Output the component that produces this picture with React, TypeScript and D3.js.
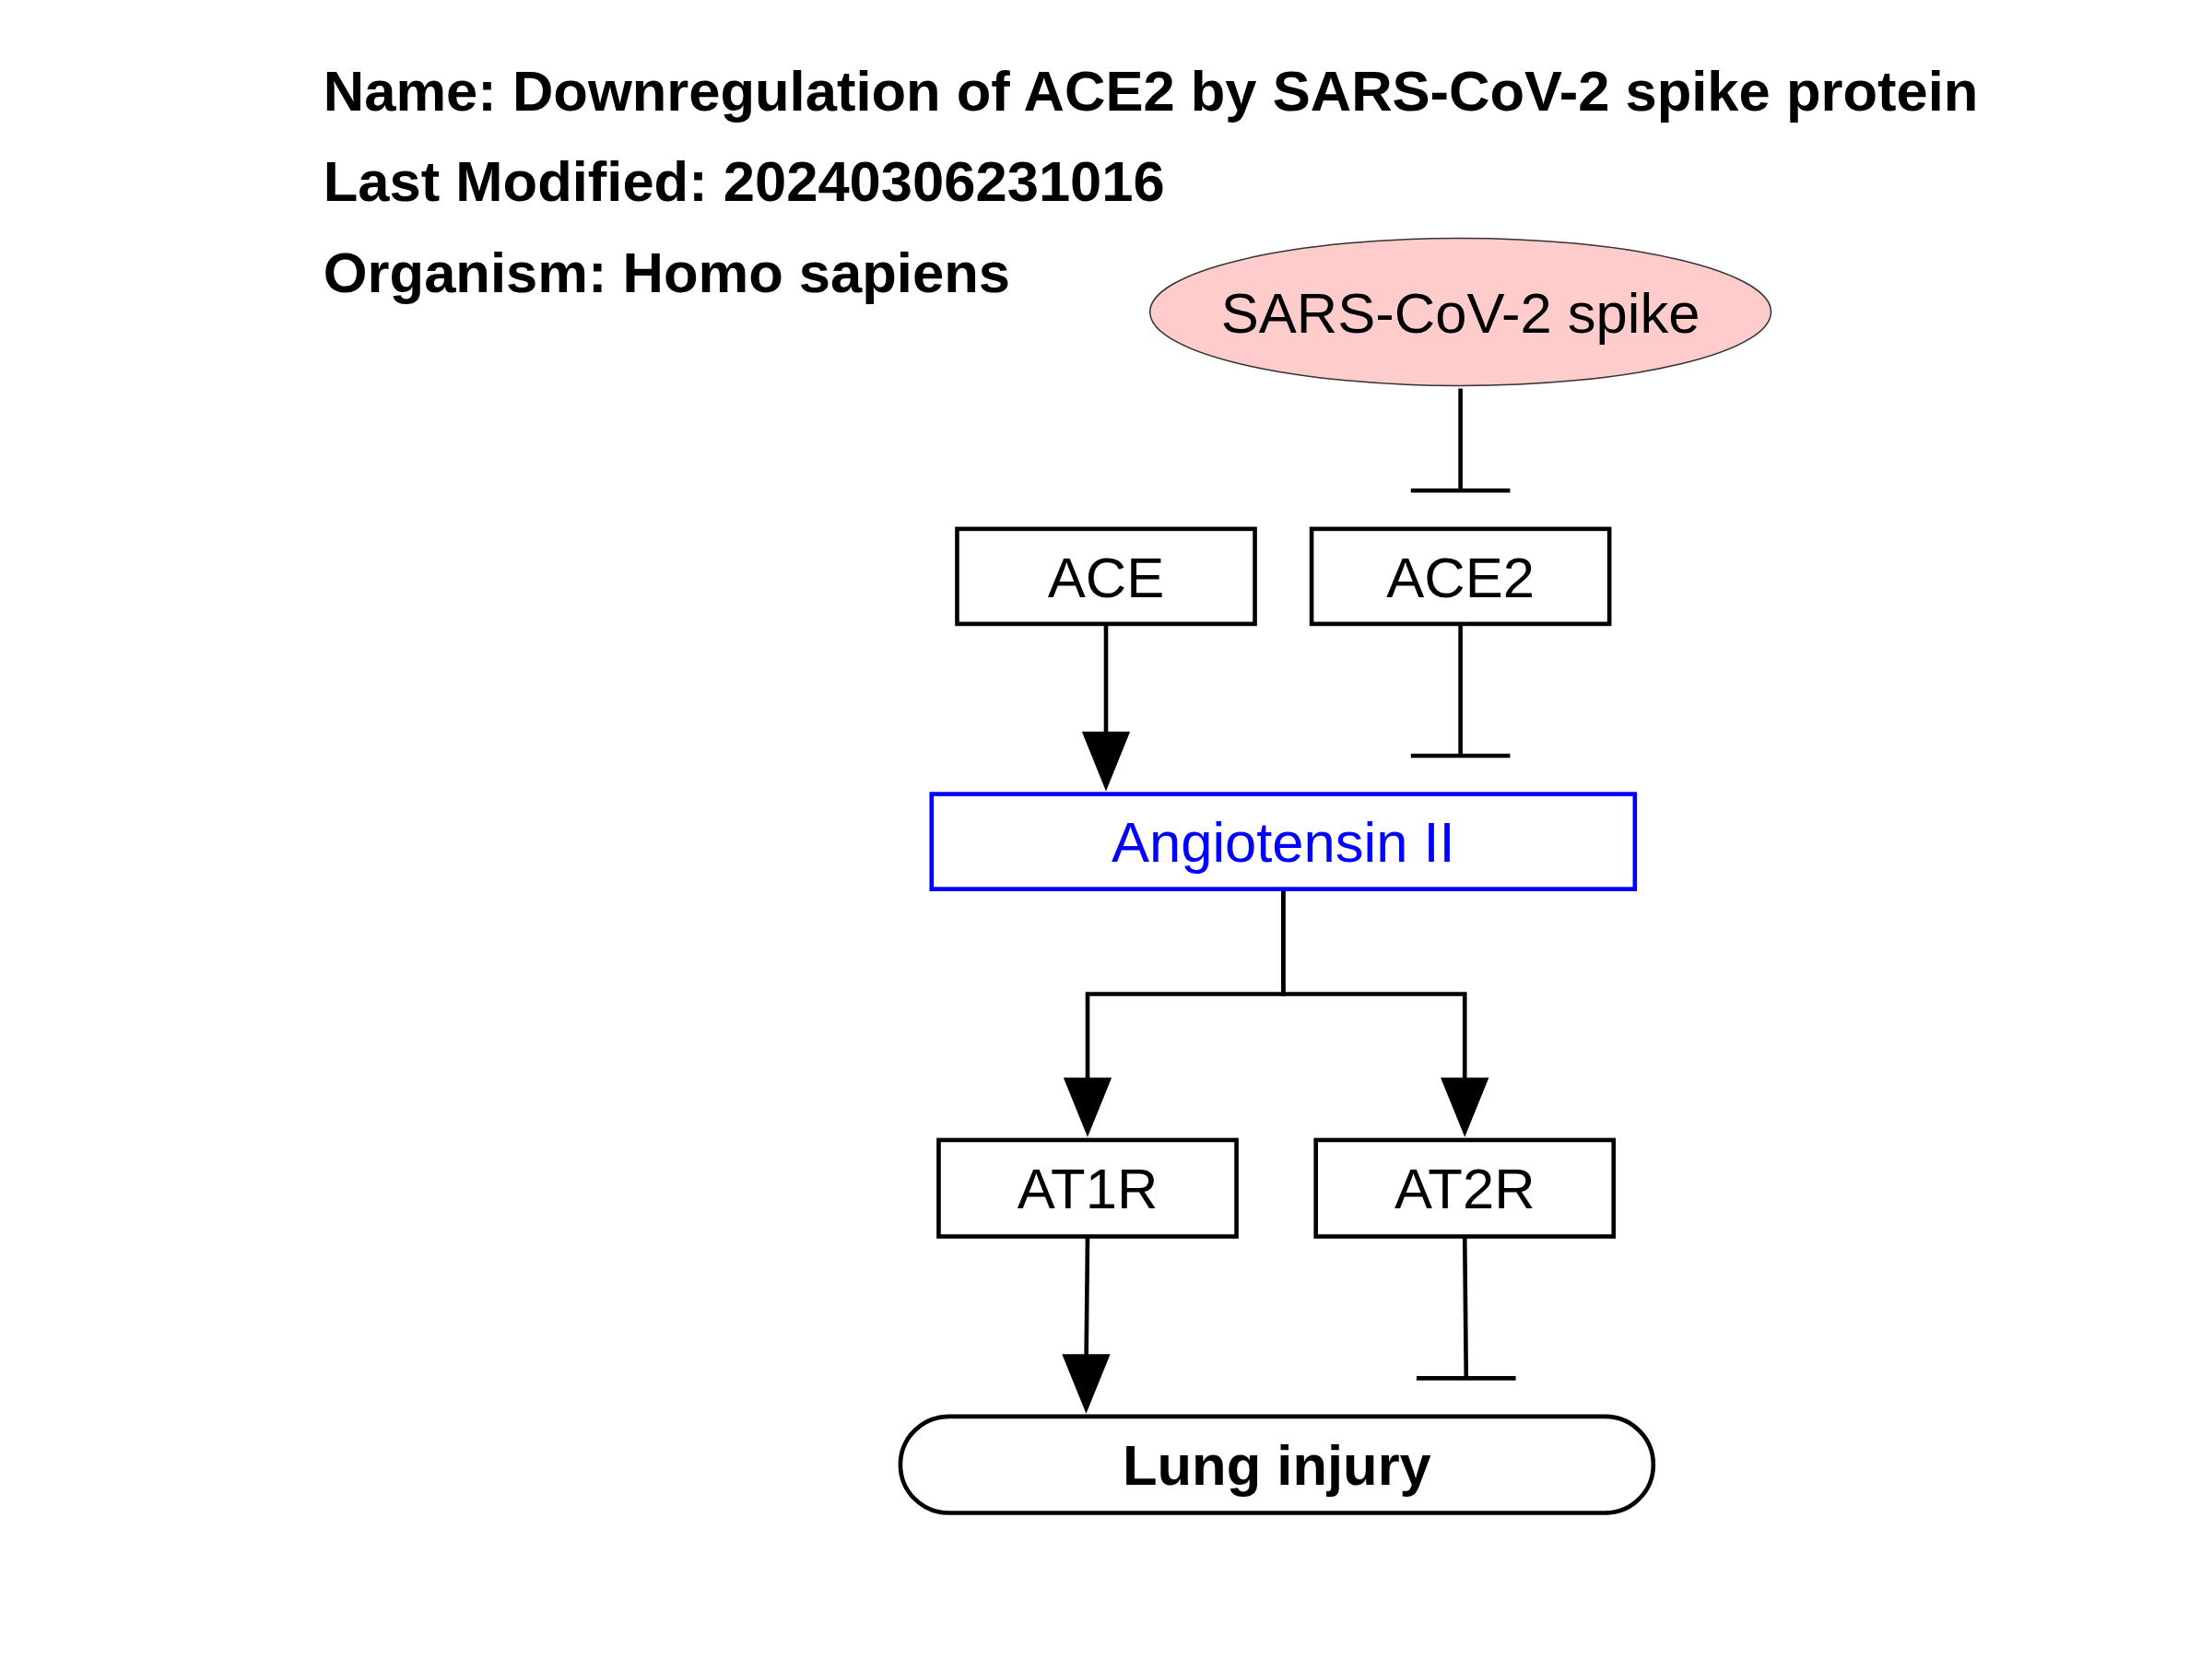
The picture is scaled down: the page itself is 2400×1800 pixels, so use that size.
import React from 'react';
import * as d3 from 'd3';

const titleLines = [
  'Name: Downregulation of ACE2 by SARS-CoV-2 spike protein',
  'Last Modified: 20240306231016',
  'Organism: Homo sapiens',
];

const nodeIds = ['spike', 'ACE', 'ACE2', 'AngII', 'AT1R', 'AT2R', 'Lung'];
const nodeLabels = ['SARS-CoV-2 spike', 'ACE', 'ACE2', 'Angiotensin II', 'AT1R', 'AT2R', 'Lung injury'];

// edges: source, target, type
const edgeSources = ['spike', 'ACE', 'ACE2', 'AngII', 'AngII', 'AT1R', 'AT2R'];
const edgeTargets = ['ACE2', 'AngII', 'AngII', 'AT1R', 'AT2R', 'Lung', 'Lung'];
const edgeTypes = ['inhibit', 'arrow', 'inhibit', 'arrow', 'arrow', 'arrow', 'inhibit'];

// layout in diagram units (x0, y0, x1, y1)
const layout: Record<string, [number, number, number, number]> = {
  spike: [811, 168, 1249, 272],
  ACE: [675, 373, 885, 440],
  ACE2: [925, 373, 1135, 440],
  AngII: [657, 560, 1153, 627],
  AT1R: [662, 804, 872, 872],
  AT2R: [928, 804, 1138, 872],
  Lung: [635, 999, 1166, 1067],
};

const W = 1560;
const H = 1170;
const sx = d3.scaleLinear().domain([0, W]).range([0, 2400]);
const sy = d3.scaleLinear().domain([0, H]).range([0, 1800]);

const font = 'Liberation Sans, Arial, sans-serif';

export default function App() {
  const k = sx(1);
  const box = (id: string) => {
    const [x0, y0, x1, y1] = layout[id];
    return { x0: sx(x0), y0: sy(y0), x1: sx(x1), y1: sy(y1), cx: sx((x0 + x1) / 2), cy: sy((y0 + y1) / 2) };
  };

  const arrowHead = (x: number, y: number) => {
    const hw = 17 * k, hl = 42 * k;
    return `M${x},${y} L${x - hw},${y - hl} L${x + hw},${y - hl} Z`;
  };

  const edges = edgeSources.map((s, i) => {
    const a = box(s), b = box(edgeTargets[i]);
    const type = edgeTypes[i];
    let x1 = a.cx, x2 = b.cx;
    if (s === 'ACE') { x1 = x2 = a.cx; }
    if (s === 'ACE2') { x1 = x2 = a.cx; }
    if (s === 'spike') { x1 = x2 = a.cx; }
    if (s === 'AT1R') { x1 = a.cx; x2 = a.cx - 1 * k; }
    if (s === 'AT2R') { x1 = a.cx; x2 = a.cx + 1 * k; }
    const yStart = a.y1 + (s === 'spike' ? 2 * k : 0);
    const yEnd = type === 'inhibit' ? b.y0 - 27 * k : b.y0 - 2 * k;
    let d: string;
    if (s === 'AngII') {
      const mid = sy(701);
      d = `M${a.cx},${a.y1} L${a.cx},${mid} L${b.cx},${mid} L${b.cx},${yEnd - 30 * k}`;
      x2 = b.cx;
    } else {
      d = `M${x1},${yStart} L${x2},${type === 'arrow' ? yEnd - 30 * k : yEnd}`;
    }
    return { d, type, x2, yEnd, key: i };
  });

  return (
    <svg width={2400} height={1800} style={{ position: 'absolute', left: 0, top: 0, background: '#fff' }}>
      {titleLines.map((t, i) => (
        <text key={t} x={sx(228)} y={sy(78 + i * 64)} fontFamily={font} fontWeight="bold" fontSize={40 * k}>{t}</text>
      ))}
      {edges.map(e => (
        <g key={e.key} stroke="#000" strokeWidth={3 * k} fill="none">
          <path d={e.d} />
          {e.type === 'arrow'
            ? <path d={arrowHead(e.x2, e.yEnd)} fill="#000" stroke="none" />
            : <line x1={e.x2 - 35 * k} x2={e.x2 + 35 * k} y1={e.yEnd} y2={e.yEnd} />}
        </g>
      ))}
      {nodeIds.map((id, i) => {
        const b = box(id);
        const w = b.x1 - b.x0, h = b.y1 - b.y0;
        const blue = id === 'AngII';
        return (
          <g key={id}>
            {id === 'spike'
              ? <ellipse cx={b.cx} cy={b.cy} rx={w / 2} ry={h / 2} fill="#ffcccc" stroke="#333" strokeWidth={1 * k} />
              : <rect x={b.x0} y={b.y0} width={w} height={h} rx={id === 'Lung' ? 34 * k : 0}
                  fill="#fff" stroke={blue ? '#0000ff' : '#000'} strokeWidth={3 * k} />}
            <text x={b.cx} y={b.cy} dy="0.36em" textAnchor="middle" fontFamily={font} fontSize={40 * k}
              fontWeight={id === 'Lung' ? 'bold' : 'normal'} fill={blue ? '#0000ff' : '#000'}>{nodeLabels[i]}</text>
          </g>
        );
      })}
    </svg>
  );
}
